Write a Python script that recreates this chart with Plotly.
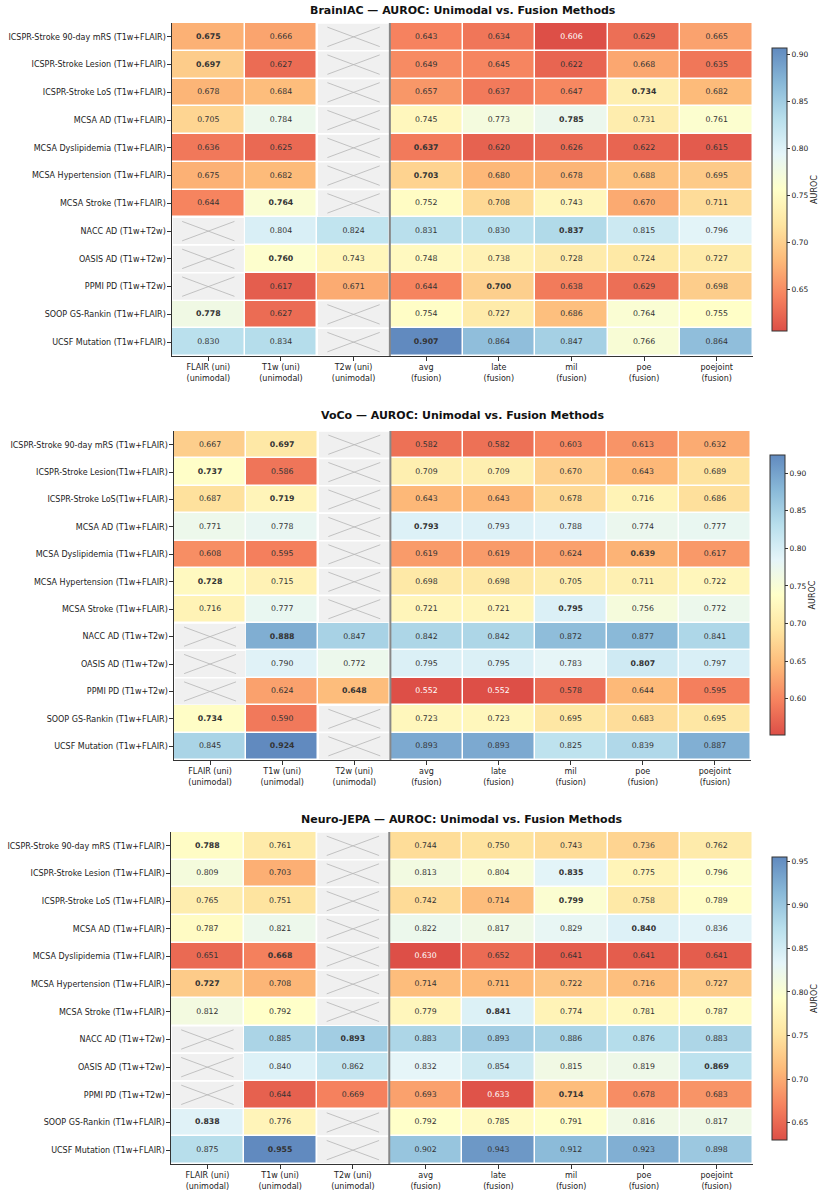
import plotly.graph_objects as go
import numpy as np

N = None
columns = ["FLAIR (uni)<br>(unimodal)", "T1w (uni)<br>(unimodal)", "T2w (uni)<br>(unimodal)",
           "avg<br>(fusion)", "late<br>(fusion)", "mil<br>(fusion)", "poe<br>(fusion)", "poejoint<br>(fusion)"]

rows_a = ["ICSPR-Stroke 90-day mRS (T1w+FLAIR)", "ICSPR-Stroke Lesion (T1w+FLAIR)", "ICSPR-Stroke LoS (T1w+FLAIR)",
          "MCSA AD (T1w+FLAIR)", "MCSA Dyslipidemia (T1w+FLAIR)", "MCSA Hypertension (T1w+FLAIR)",
          "MCSA Stroke (T1w+FLAIR)", "NACC AD (T1w+T2w)", "OASIS AD (T1w+T2w)", "PPMI PD (T1w+T2w)",
          "SOOP GS-Rankin (T1w+FLAIR)", "UCSF Mutation (T1w+FLAIR)"]
rows_b = ["ICSPR-Stroke 90-day mRS (T1w+FLAIR)", "ICSPR-Stroke Lesion(T1w+FLAIR)", "ICSPR-Stroke LoS(T1w+FLAIR)",
          "MCSA AD (T1w+FLAIR)", "MCSA Dyslipidemia (T1w+FLAIR)", "MCSA Hypertension (T1w+FLAIR)",
          "MCSA Stroke (T1w+FLAIR)", "NACC AD (T1w+T2w)", "OASIS AD (T1w+T2w)", "PPMI PD (T1w+T2w)",
          "SOOP GS-Rankin (T1w+FLAIR)", "UCSF Mutation (T1w+FLAIR)"]

brainiac = [
    [0.675, 0.666, N, 0.643, 0.634, 0.606, 0.629, 0.665],
    [0.697, 0.627, N, 0.649, 0.645, 0.622, 0.668, 0.635],
    [0.678, 0.684, N, 0.657, 0.637, 0.647, 0.734, 0.682],
    [0.705, 0.784, N, 0.745, 0.773, 0.785, 0.731, 0.761],
    [0.636, 0.625, N, 0.637, 0.620, 0.626, 0.622, 0.615],
    [0.675, 0.682, N, 0.703, 0.680, 0.678, 0.688, 0.695],
    [0.644, 0.764, N, 0.752, 0.708, 0.743, 0.670, 0.711],
    [N, 0.804, 0.824, 0.831, 0.830, 0.837, 0.815, 0.796],
    [N, 0.760, 0.743, 0.748, 0.738, 0.728, 0.724, 0.727],
    [N, 0.617, 0.671, 0.644, 0.700, 0.638, 0.629, 0.698],
    [0.778, 0.627, N, 0.754, 0.727, 0.686, 0.764, 0.755],
    [0.830, 0.834, N, 0.907, 0.864, 0.847, 0.766, 0.864],
]
voco = [
    [0.667, 0.697, N, 0.582, 0.582, 0.603, 0.613, 0.632],
    [0.737, 0.586, N, 0.709, 0.709, 0.670, 0.643, 0.689],
    [0.687, 0.719, N, 0.643, 0.643, 0.678, 0.716, 0.686],
    [0.771, 0.778, N, 0.793, 0.793, 0.788, 0.774, 0.777],
    [0.608, 0.595, N, 0.619, 0.619, 0.624, 0.639, 0.617],
    [0.728, 0.715, N, 0.698, 0.698, 0.705, 0.711, 0.722],
    [0.716, 0.777, N, 0.721, 0.721, 0.795, 0.756, 0.772],
    [N, 0.888, 0.847, 0.842, 0.842, 0.872, 0.877, 0.841],
    [N, 0.790, 0.772, 0.795, 0.795, 0.783, 0.807, 0.797],
    [N, 0.624, 0.648, 0.552, 0.552, 0.578, 0.644, 0.595],
    [0.734, 0.590, N, 0.723, 0.723, 0.695, 0.683, 0.695],
    [0.845, 0.924, N, 0.893, 0.893, 0.825, 0.839, 0.887],
]
neurojepa = [
    [0.788, 0.761, N, 0.744, 0.750, 0.743, 0.736, 0.762],
    [0.809, 0.703, N, 0.813, 0.804, 0.835, 0.775, 0.796],
    [0.765, 0.751, N, 0.742, 0.714, 0.799, 0.758, 0.789],
    [0.787, 0.821, N, 0.822, 0.817, 0.829, 0.840, 0.836],
    [0.651, 0.668, N, 0.630, 0.652, 0.641, 0.641, 0.641],
    [0.727, 0.708, N, 0.714, 0.711, 0.722, 0.716, 0.727],
    [0.812, 0.792, N, 0.779, 0.841, 0.774, 0.781, 0.787],
    [N, 0.885, 0.893, 0.883, 0.893, 0.886, 0.876, 0.883],
    [N, 0.840, 0.862, 0.832, 0.854, 0.815, 0.819, 0.869],
    [N, 0.644, 0.669, 0.693, 0.633, 0.714, 0.678, 0.683],
    [0.838, 0.776, N, 0.792, 0.785, 0.791, 0.816, 0.817],
    [0.875, 0.955, N, 0.902, 0.943, 0.912, 0.923, 0.898],
]

panels = [
    ("BrainIAC — AUROC: Unimodal vs. Fusion Methods", brainiac, rows_a),
    ("VoCo — AUROC: Unimodal vs. Fusion Methods", voco, rows_b),
    ("Neuro-JEPA — AUROC: Unimodal vs. Fusion Methods", neurojepa, rows_a),
]

W, H = 826, 1195
# pixel boxes of each heatmap: (left, right, top, bottom), colorbar (left, top, bottom)
boxes = [(172, 753, 23, 356), (174, 751, 431, 760), (171, 753, 832, 1164)]
cbars = [(772, 48, 331), (770, 455, 735), (772, 857, 1140)]
title_y = [10, 415, 819]

base = ["#d73027", "#f46d43", "#fdae61", "#fee090", "#ffffbf", "#e0f3f8", "#abd9e9", "#74add1", "#4575b4"]
alpha = 0.85


def blend(h):
    r, g, b = int(h[1:3], 16), int(h[3:5], 16), int(h[5:7], 16)
    f = lambda c: int(round(alpha * c + (1 - alpha) * 255))
    return f"rgb({f(r)},{f(g)},{f(b)})"


cscale = [[i / (len(base) - 1), blend(c)] for i, c in enumerate(base)]
FONT = "DejaVu Sans"

fig = go.Figure()
shapes, annotations = [], []
layout_axes = {}

for k, (title, data, rlabels) in enumerate(panels):
    z = np.array([[np.nan if v is None else v for v in row] for row in data], dtype=float)
    zmin, zmax = np.nanmin(z), np.nanmax(z)
    nr, nc = z.shape
    xa = "x" if k == 0 else f"x{k+1}"
    ya = "y" if k == 0 else f"y{k+1}"
    l, r, t, b = boxes[k]
    cl, ct, cb = cbars[k]
    fig.add_trace(go.Heatmap(
        z=z, x=list(range(nc)), y=list(range(nr)), xaxis=xa, yaxis=ya,
        zmin=zmin, zmax=zmax, colorscale=cscale, xgap=1.5, ygap=1.5,
        hoverinfo="skip",
        colorbar=dict(
            x=cl / W, xanchor="left", y=1 - (ct + cb) / 2 / H, yanchor="middle",
            len=(cb - ct) / H, lenmode="fraction", thickness=15, thicknessmode="pixels",
            xpad=0, ypad=0,
            outlinecolor="#333333", outlinewidth=1,
            ticks="outside", ticklen=3, tickcolor="#333333", tick0=0, dtick=0.05,
            tickformat=".2f", tickfont=dict(size=7.5, family=FONT, color="#222"),
            title=dict(text="AUROC", side="right", font=dict(size=8, family=FONT, color="#222")),
        ),
    ))
    # texts
    tx, ty, tt, tc = [], [], [], []
    for i in range(nr):
        rowvals = z[i]
        best = int(np.nanargmax(rowvals))
        for j in range(nc):
            v = rowvals[j]
            if np.isnan(v):
                continue
            s = f"{v:.3f}"
            if j == best:
                s = f"<b>{s}</b>"
            norm = (v - zmin) / (zmax - zmin)
            tx.append(j); ty.append(i); tt.append(s)
            tc.append("white" if norm < 0.02 else "#333333")
    fig.add_trace(go.Scatter(
        x=tx, y=ty, text=tt, mode="text", xaxis=xa, yaxis=ya,
        textfont=dict(size=7.8, family=FONT, color=tc), hoverinfo="skip", showlegend=False,
    ))
    # missing cells
    for i in range(nr):
        for j in range(nc):
            if np.isnan(z[i, j]):
                shapes.append(dict(type="rect", xref=xa, yref=ya, x0=j - 0.5, x1=j + 0.5,
                                   y0=i - 0.5, y1=i + 0.5, fillcolor="#f0f0f0",
                                   line=dict(color="white", width=1.5), layer="below"))
                for (a0, a1) in [(-0.35, 0.35), (0.35, -0.35)]:
                    shapes.append(dict(type="line", xref=xa, yref=ya, x0=j - 0.36, x1=j + 0.36,
                                       y0=i + a0, y1=i + a1,
                                       line=dict(color="#b5b5b5", width=0.8)))
    # separator between unimodal and fusion
    shapes.append(dict(type="line", xref=xa, yref=f"{ya} domain", x0=2.5, x1=2.5, y0=0, y1=1,
                       line=dict(color="#888888", width=2)))
    annotations.append(dict(text=f"<b>{title}</b>", xref="paper", yref="paper",
                            x=(l + r) / 2 / W, y=1 - title_y[k] / H, xanchor="center", yanchor="middle",
                            showarrow=False, font=dict(size=11, family=FONT, color="#111")))
    xkey = "xaxis" if k == 0 else f"xaxis{k+1}"
    ykey = "yaxis" if k == 0 else f"yaxis{k+1}"
    layout_axes[xkey] = dict(
        domain=[l / W, r / W], anchor=ya, range=[-0.5, nc - 0.5],
        tickmode="array", tickvals=list(range(nc)), ticktext=columns,
        showgrid=False, zeroline=False, showline=True, linecolor="#333333", linewidth=1.2,
        ticks="outside", ticklen=3.5, tickcolor="#333333",
        tickfont=dict(size=8, family=FONT, color="#222"), fixedrange=True,
    )
    layout_axes[ykey] = dict(
        domain=[1 - b / H, 1 - t / H], anchor=xa, range=[nr - 0.5, -0.5],
        tickmode="array", tickvals=list(range(nr)), ticktext=rlabels,
        showgrid=False, zeroline=False, showline=True, linecolor="#333333", linewidth=1.2,
        ticks="outside", ticklen=3.5, tickcolor="#333333",
        tickfont=dict(size=8, family=FONT, color="#222"), fixedrange=True,
    )

fig.update_layout(
    width=W, height=H, margin=dict(l=0, r=0, t=0, b=0),
    paper_bgcolor="white", plot_bgcolor="white", showlegend=False,
    shapes=shapes, annotations=annotations, font=dict(family=FONT),
    **layout_axes,
)
fig.write_html("out.html")
